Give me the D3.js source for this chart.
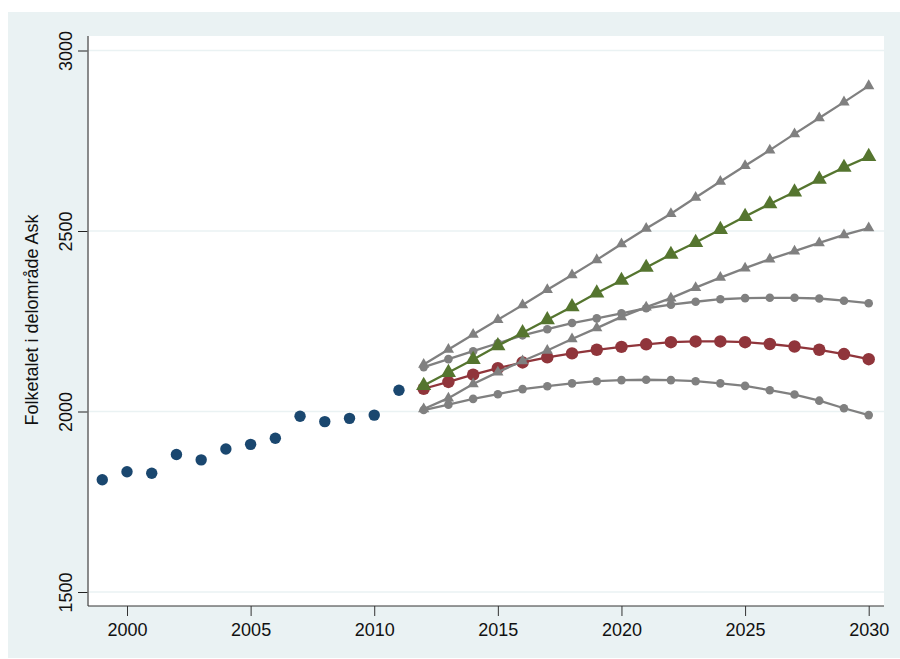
<!DOCTYPE html>
<html>
    <head>
        <meta charset="utf-8">
        <script src="https://d3js.org/d3.v7.min.js"></script>
        <style>
            html, body { margin: 0; padding: 0; background: white; }
            svg { display: block; }
            text { font-family: "Liberation Sans", Arial, sans-serif; fill: #111; }
        </style>
        <title>Folketalet i delområde Ask</title>
    </head>
    <body>
        <script>
            // Values
            var histYears = [1999,2000,2001,2002,2003,2004,2005,2006,2007,2008,2009,2010,2011];
            var histValues = [1811,1833,1829,1881,1866,1896,1909,1926,1987,1972,1981,1990,2059];

            var projYears = [2012,2013,2014,2015,2016,2017,2018,2019,2020,2021,2022,2023,2024,2025,2026,2027,2028,2029,2030];
            var midCircle = [2063,2082,2102,2120,2136,2150,2161,2171,2179,2186,2192,2194,2194,2192,2187,2180,2171,2159,2145];
            var midTriangle = [2072,2108,2144,2182,2218,2254,2290,2328,2363,2399,2435,2468,2504,2540,2575,2608,2643,2676,2706];
            var highTriangle = [2130,2172,2213,2254,2295,2337,2378,2420,2464,2507,2548,2593,2637,2681,2724,2769,2813,2857,2902];
            var lowTriangle = [2007,2037,2076,2109,2140,2169,2201,2231,2262,2289,2314,2343,2371,2397,2422,2444,2467,2489,2508];
            var highCircle = [2123,2145,2167,2189,2211,2228,2245,2258,2272,2286,2296,2304,2311,2314,2315,2315,2313,2307,2300];
            var lowCircle = [2004,2019,2035,2048,2062,2070,2078,2084,2087,2088,2087,2084,2078,2071,2059,2047,2030,2009,1990];

            var xTicks = [2000,2005,2010,2015,2020,2025,2030];
            var yTicks = [1500,2000,2500,3000];

            var width = 900;
            var height = 659;
            var bg = "#eaf2f3";

            var svg = d3.select( "body" )
                .append( "svg" )
                .attr( "width", width )
                .attr( "height", height );

            // outer panel and white plot region
            svg.append( "rect" ).attr( "x", 8 ).attr( "y", 12 )
                .attr( "width", 892 ).attr( "height", 646 ).attr( "fill", bg );
            svg.append( "rect" ).attr( "x", 88 ).attr( "y", 36 )
                .attr( "width", 796 ).attr( "height", 570 ).attr( "fill", "white" );

            var x = d3.scaleLinear().domain( [2000,2030] ).range( [127,868.7] );
            var y = d3.scaleLinear().domain( [1500,3000] ).range( [592,50.5] );

            // grid lines
            svg.append( "g" ).selectAll( "line" )
                .data( yTicks )
                .enter()
                .append( "line" )
                .attr( "x1", 88 ).attr( "x2", 884 )
                .attr( "y1", y ).attr( "y2", y )
                .attr( "stroke", bg )
                .attr( "stroke-width", 1.6 );

            // axes
            var xAxis = svg.append( "g" )
                .attr( "transform", "translate(0,606)" )
                .call( d3.axisBottom( x ).tickValues( xTicks ).tickFormat( d3.format( "d" ) ).tickSize( 10 ).tickPadding( 7 ) );
            xAxis.select( ".domain" ).remove();
            xAxis.selectAll( "text" ).attr( "font-size", 18 ).attr( "font-family", null );
            xAxis.selectAll( "line" ).attr( "stroke", "#333" );

            var yAxis = svg.append( "g" )
                .attr( "transform", "translate(88,0)" )
                .call( d3.axisLeft( y ).tickValues( yTicks ).tickFormat( d3.format( "d" ) ).tickSize( 10 ).tickPadding( 6 ) );
            yAxis.select( ".domain" ).remove();
            yAxis.selectAll( "line" ).attr( "stroke", "#222" );
            yAxis.selectAll( "text" )
                .attr( "font-size", 18 ).attr( "font-family", null )
                .attr( "text-anchor", "middle" )
                .attr( "dy", 0 ).attr( "x", 0 ).attr( "y", 0 )
                .attr( "transform", "translate(-16,0) rotate(-90)" );

            svg.append( "line" ).attr( "x1", 88 ).attr( "x2", 88 ).attr( "y1", 36 ).attr( "y2", 606 )
                .attr( "stroke", "#6e6e6e" ).attr( "stroke-width", 1.6 );
            svg.append( "line" ).attr( "x1", 88 ).attr( "x2", 884 ).attr( "y1", 606 ).attr( "y2", 606 )
                .attr( "stroke", "#333" ).attr( "stroke-width", 1 );

            svg.append( "text" )
                .attr( "transform", "translate(38,320) rotate(-90)" )
                .attr( "text-anchor", "middle" )
                .attr( "font-size", 18 )
                .text( "Folketalet i delområde Ask" );

            var line = d3.line()
                .x( function(d, i) { return x( projYears[i] ); } )
                .y( function(d) { return y( d ); } );

            var triangle = function(size) { return d3.symbol().type( d3.symbolTriangle ).size( size ); };
            var circle = function(size) { return d3.symbol().type( d3.symbolCircle ).size( size ); };

            var g = svg.append( "g" );

            function drawSeries(values, color, sym, lineWidth) {
                g.append( "path" )
                    .attr( "d", line( values ) )
                    .attr( "fill", "none" )
                    .attr( "stroke", color )
                    .attr( "stroke-width", lineWidth );
                g.append( "g" ).selectAll( "path" )
                    .data( values )
                    .enter()
                    .append( "path" )
                    .attr( "d", sym )
                    .attr( "fill", color )
                    .attr( "transform", function(d, i) {
                        return "translate(" + x( projYears[i] ) + "," + y( d ) + ")";
                    } );
            }

            var grey = "#808080";
            drawSeries( midCircle, "#90353b", circle( 122 ), 2.3 );
            drawSeries( lowCircle, grey, circle( 58 ), 2.3 );
            drawSeries( highCircle, grey, circle( 58 ), 2.3 );
            drawSeries( lowTriangle, grey, triangle( 55 ), 2.3 );
            drawSeries( highTriangle, grey, triangle( 55 ), 2.3 );
            drawSeries( midTriangle, "#55752f", triangle( 100 ), 2.3 );

            // observed population
            svg.append( "g" ).selectAll( "circle" )
                .data( histValues )
                .enter()
                .append( "circle" )
                .attr( "cx", function(d, i) { return x( histYears[i] ); } )
                .attr( "cy", function(d) { return y( d ); } )
                .attr( "r", 5.7 )
                .attr( "fill", "#1a476f" );
        </script>
    </body>
</html>
